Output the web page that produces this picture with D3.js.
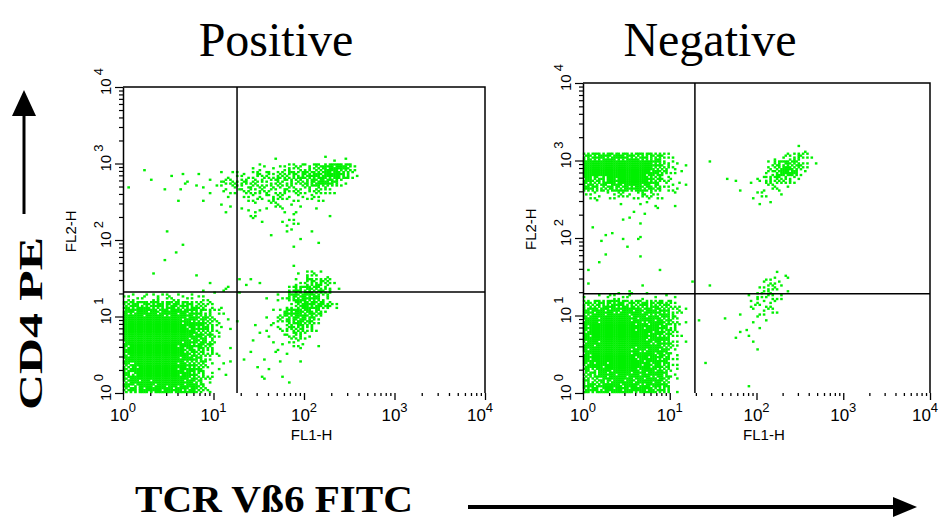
<!DOCTYPE html>
<html>
<head>
<meta charset="utf-8">
<script src="https://cdn.jsdelivr.net/npm/d3@7"></script>
<style>
  body { margin: 0; background: #fff; }
  text { fill: #000; }
</style>
</head>
<body>
<svg id="chart" width="939" height="519"></svg>
<script>

// density.
// one string per 0.1 decade of FL2-H, top string = 10^3.2..10^3.3, last = 10^0..10^0.1
// one char per 0.1 decade of FL1-H starting at 10^0 ; 0 = empty .. 9 = solid green
var positiveRows = [
  "0000000000000000000000000000",
  "0000000000000000000000000000",
  "0000000000000000100000111000",
  "0010000000000012123335787300",
  "0000011010112233355567886200",
  "0001001111233443344457752000",
  "1000101011022334333334310000",
  "0000001010010222332222100000",
  "0000000000110111221101000000",
  "0000000000010121011100100000",
  "0000000000000011012100000000",
  "0000100000000000002010000000",
  "0000000000000000100100000000",
  "0000001000000000001001000000",
  "0000010000000000000000000000",
  "0000100000000000000000000000",
  "0000000000000000001000000000",
  "0001000010000000000132100000",
  "0000000001001111000255410000",
  "0000000010121000003676410000",
  "2223222221000001026776300000",
  "6777676653100000002687520000",
  "8888888764210000137875100000",
  "9999998875211001136763000000",
  "9999999876210011125641000000",
  "9999999875200001113420000000",
  "8999998875100010112201000000",
  "8999998764110010111100000000",
  "8999998763110101010100000000",
  "6899998752110010100000000000",
  "7899998852010001010000000000",
  "7898998852000001001000000000",
  "6688888852000000000000000000"
];

var negativeRows = [
  "0000000000000000000000000000",
  "0000000000000000000000001100",
  "6777777663100000000000134310",
  "9999999974210010000002576310",
  "9999999874210000000003686200",
  "8568999863110000110124542000",
  "7567778752210000001012210000",
  "2212323321100000000121100000",
  "0100101110100000000011000000",
  "0000010110000000000000000000",
  "0000110000000000000000000000",
  "0100001000000000000000000000",
  "0011001000000000000000000000",
  "0010101000000000000000000000",
  "0000010000000000000000000000",
  "0010001000000000000000000000",
  "0100000000000000000000000000",
  "1000000010000000000000110000",
  "1000000000001000000012210000",
  "0000011000000010000023210000",
  "1112221111100000000133200000",
  "5667766665310000000222100000",
  "7888888877320000001122100000",
  "8899988887410100100111000000",
  "8999998887410000001010000000",
  "8999999887310000011100000000",
  "8899999887310000000100000000",
  "8999988887200000000010000000",
  "8999998887200000000000000000",
  "7889998886200010000000000000",
  "5688988886200000000000000000",
  "6578888886100000000000000000",
  "7788888876100000000100000000"
];

var panelTitles = ["Positive", "Negative"];
var gateFL1 = [18.2, 19.5];     // vertical quadrant line
var gateFL2 = [20.9, 19.1];     // horizontal quadrant line
var decades = [1, 10, 100, 1000, 10000];
var decadeExp = ["0", "1", "2", "3", "4"];
var xAxisName = "FL1-H", yAxisName = "FL2-H";

var panels = [
  { rows: positiveRows, left: 123, right: 485, top: 87, bottom: 393, titleX: 276 },
  { rows: negativeRows, left: 583, right: 930, top: 83, bottom: 393, titleX: 710 }
];

var svg = d3.select("#chart");
var green = "#00f000";
var bayer = [0, 8, 2, 10, 12, 4, 14, 6, 3, 11, 1, 9, 15, 7, 13, 5];

panels.forEach(function (p, pi) {

  var x = d3.scaleLog().domain([1, 10000]).range([p.left, p.right]);
  var y = d3.scaleLog().domain([1, 10000]).range([p.bottom, p.top]);
  var g = svg.append("g");

  // dots: every grid cell gets a share of a 4x4 sub grid, filled in dither order
  var dots = [];
  var nRows = p.rows.length;
  p.rows.forEach(function (row, i) {
    var r = nRows - 1 - i;
    for (var c = 0; c < row.length; c++) {
      var lvl = +row[c];
      if (!lvl) continue;
      var n = Math.round((lvl - 1) * 15 / 8) + 1;
      var x0 = x(Math.pow(10, c / 10)), x1 = x(Math.pow(10, (c + 1) / 10));
      var y0 = y(Math.pow(10, (r + 1) / 10)), y1 = y(Math.pow(10, r / 10));
      var sw = (x1 - x0) / 4, sh = (y1 - y0) / 4;
      var k = (r * 5 + c * 3 + pi * 7) % 16;
      for (var q = 0; q < 16; q++) {
        if ((bayer[q] - k + 16) % 16 < n)
          dots.push({ x: x0 + (q % 4) * sw, y: y0 + Math.floor(q / 4) * sh, w: sw, h: sh });
      }
    }
  });

  g.append("g").selectAll("rect")
    .data(dots)
    .enter().append("rect")
      .attr("x", function (d) { return d.x - 0.2; })
      .attr("y", function (d) { return d.y - 0.2; })
      .attr("width", function (d) { return d.w + 0.4; })
      .attr("height", function (d) { return d.h + 0.4; })
      .attr("fill", green);

  // frame: top and right border
  g.append("path")
    .attr("d", "M" + p.left + "," + p.top + "H" + p.right + "V" + p.bottom)
    .attr("fill", "none").attr("stroke", "#000").attr("stroke-width", 1.5);

  // y axis, log ticks pointing out
  var yAxis = g.append("g")
    .attr("transform", "translate(" + p.left + ",0)")
    .call(d3.axisLeft(y).tickValues(y.ticks()).tickSize(4).tickSizeOuter(0).tickFormat(""));
  yAxis.select(".domain").attr("stroke-width", 1.5);
  yAxis.selectAll(".tick line")
    .attr("stroke-width", 1.2)
    .filter(function (d) { return decades.indexOf(d) >= 0; })
    .attr("x2", -8);

  // x axis: ticks only, no base line
  var xAxis = g.append("g")
    .attr("transform", "translate(0," + p.bottom + ")")
    .call(d3.axisBottom(x).tickValues(x.ticks()).tickSize(3).tickSizeOuter(0).tickFormat(""));
  xAxis.select(".domain").remove();
  xAxis.selectAll(".tick line")
    .attr("stroke-width", 1.3)
    .filter(function (d) { return decades.indexOf(d) >= 0; })
    .attr("y2", 7);

  // quadrant gates
  g.append("line")
    .attr("x1", x(gateFL1[pi])).attr("x2", x(gateFL1[pi]))
    .attr("y1", p.top).attr("y2", p.bottom)
    .attr("stroke", "#000").attr("stroke-width", 1.5);
  g.append("line")
    .attr("x1", p.left).attr("x2", p.right)
    .attr("y1", y(gateFL2[pi])).attr("y2", y(gateFL2[pi]))
    .attr("stroke", "#000").attr("stroke-width", 1.5);

  // tick labels 10^n
  var xl = g.append("g").selectAll("text")
    .data(decades)
    .enter().append("text")
      .attr("x", function (d, i) { return x(d) - (i == 4 ? 5 : 0); })
      .attr("y", p.bottom + 28)
      .attr("text-anchor", "middle")
      .style("font-family", "Liberation Sans, Arial, sans-serif")
      .style("font-size", "17px");
  xl.append("tspan").text("10");
  xl.append("tspan")
    .attr("dy", -9).style("font-size", "13px")
    .text(function (d, i) { return decadeExp[i]; });

  var yl = g.append("g").selectAll("text")
    .data(decades)
    .enter().append("text")
      .attr("transform", function (d) { return "translate(" + (p.left - 12) + "," + (y(d) + 8) + ") rotate(-90)"; })
      .style("font-family", "Liberation Sans, Arial, sans-serif")
      .style("font-size", "15px");
  yl.append("tspan").text("10");
  yl.append("tspan")
    .attr("dx", 3).attr("dy", -8).style("font-size", "13px")
    .text(function (d, i) { return decadeExp[i]; });

  // channel names
  g.append("text")
    .attr("x", (x(60) + x(200)) / 2 + 4)
    .attr("y", p.bottom + 47)
    .attr("text-anchor", "middle")
    .style("font-family", "Liberation Sans, Arial, sans-serif")
    .style("font-size", "15px")
    .text(xAxisName);
  g.append("text")
    .attr("transform", "translate(" + (p.left - 47) + "," + y(130) + ") rotate(-90)")
    .attr("text-anchor", "middle")
    .style("font-family", "Liberation Sans, Arial, sans-serif")
    .style("font-size", "15px")
    .text(yAxisName);

  // panel title
  svg.append("text")
    .attr("x", p.titleX)
    .attr("y", 56)
    .attr("text-anchor", "middle")
    .style("font-family", "Liberation Serif, Times New Roman, serif")
    .style("font-size", "48px")
    .text(panelTitles[pi]);
});

// global axis captions with arrows
svg.append("text")
  .attr("transform", "translate(42,410) rotate(-90)")
  .attr("textLength", 173).attr("lengthAdjust", "spacingAndGlyphs")
  .style("font-family", "Liberation Serif, Times New Roman, serif")
  .style("font-weight", "bold")
  .style("font-size", "34px")
  .text("CD4 PE");

svg.append("line")
  .attr("x1", 24).attr("x2", 24).attr("y1", 214).attr("y2", 110)
  .attr("stroke", "#000").attr("stroke-width", 3);
svg.append("path")
  .attr("d", "M12,116L36,116L24,90Z").attr("fill", "#000");

svg.append("text")
  .attr("x", 135).attr("y", 512)
  .attr("textLength", 278).attr("lengthAdjust", "spacingAndGlyphs")
  .style("font-family", "Liberation Serif, Times New Roman, serif")
  .style("font-weight", "bold")
  .style("font-size", "37px")
  .text("TCR V\u00DF6 FITC");

svg.append("line")
  .attr("x1", 468).attr("x2", 898).attr("y1", 507).attr("y2", 507)
  .attr("stroke", "#000").attr("stroke-width", 4);
svg.append("path")
  .attr("d", "M893,497L893,517L917,507Z").attr("fill", "#000");

</script>
</body>
</html>
